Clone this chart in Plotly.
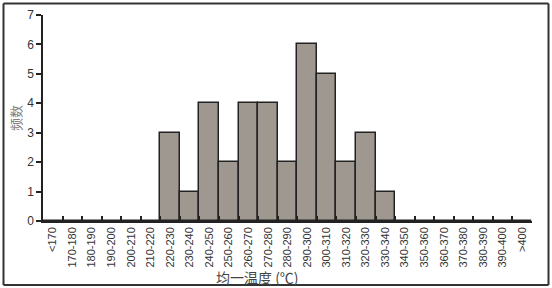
import plotly.graph_objects as go

categories = ["<170", "170-180", "180-190", "190-200", "200-210", "210-220",
              "220-230", "230-240", "240-250", "250-260", "260-270", "270-280",
              "280-290", "290-300", "300-310", "310-320", "320-330", "330-340",
              "340-350", "350-360", "360-370", "370-380", "380-390", "390-400", ">400"]
frequency = [0, 0, 0, 0, 0, 0, 3, 1, 4, 2, 4, 4, 2, 6, 5, 2, 3, 1,
             0, 0, 0, 0, 0, 0, 0]
y_ticks = [0, 1, 2, 3, 4, 5, 6, 7]

ML, MR, MT, MB = 43, 20, 15, 67
W, H = 552, 288
PW, PH = W - ML - MR, H - MT - MB


def px_x(p):
    return (p - ML) / PW


def px_y(p):
    return (MT + PH - p) / PH


fig = go.Figure(go.Bar(
    x=categories, y=frequency,
    marker=dict(color="#9f9890", line=dict(color="#222222", width=1.5)),
))

frame_lines = [
    (3.5, 3.5, 548.5, 3.5),
    (548.5, 3.5, 548.5, 285),
    (3.5, 285, 548.5, 285),
    (3.5, 3.5, 3.5, 285),
]
shapes = [dict(type="line", xref="paper", yref="paper",
               x0=px_x(a), y0=px_y(b), x1=px_x(c), y1=px_y(d),
               line=dict(color="#333333", width=2), layer="above")
          for a, b, c, d in frame_lines]

fig.update_layout(
    width=W, height=H,
    margin=dict(l=ML, r=MR, t=MT, b=MB, autoexpand=False),
    paper_bgcolor="white", plot_bgcolor="white",
    bargap=0, showlegend=False,
    font=dict(family="Liberation Sans, Arial, sans-serif", color="#333333"),
    xaxis=dict(
        type="category", tickangle=-90, tickson="boundaries", automargin=False,
        ticks="inside", ticklen=5, tickwidth=1.5, tickcolor="#222222",
        showline=True, linecolor="#222222", linewidth=1.5,
        showgrid=False, tickfont=dict(size=11, color="#333333"),
    ),
    yaxis=dict(
        range=[0, 7], tickvals=y_ticks, ticks="outside", ticklen=5, automargin=False,
        tickwidth=1.5, tickcolor="#222222",
        showline=True, linecolor="#222222", linewidth=1.5,
        showgrid=False, zeroline=False,
        tickfont=dict(size=12, color="#333333"),
        title=dict(text="频数", font=dict(family="Noto Sans CJK SC", size=13, color="#808080"), standoff=3),
    ),
    shapes=shapes,
    annotations=[dict(
        text="均一温度 (℃)", xref="paper", yref="paper",
        x=px_x(257), y=px_y(277),
        xanchor="center", yanchor="middle", showarrow=False,
        font=dict(family="Noto Sans CJK SC", size=14, color="#444444"),
    )],
)

fig.write_html("out.html", config={"displayModeBar": False},
               post_script="document.body.style.margin='0';document.body.style.overflow='hidden';")
